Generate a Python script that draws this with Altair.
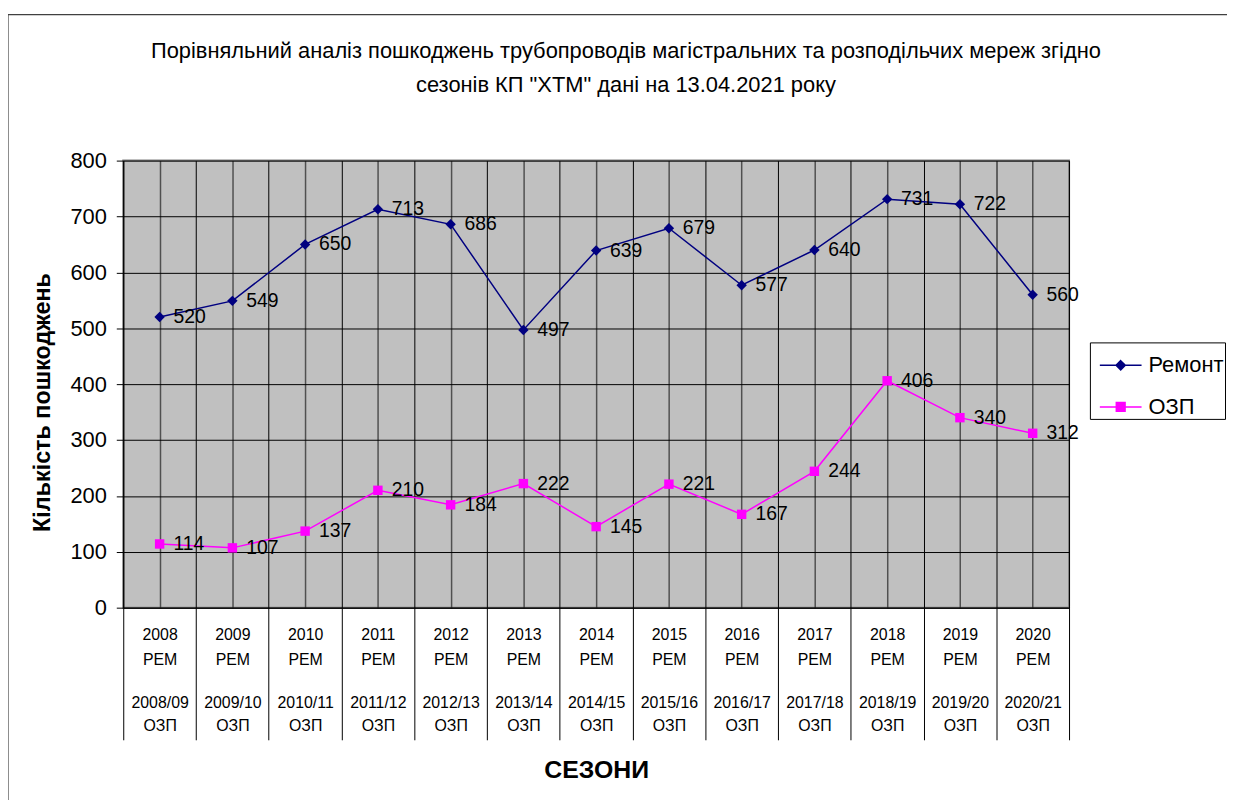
import json
import altair as alt
import pandas as pd

# ---- data ----
years = ["2008", "2009", "2010", "2011", "2012", "2013", "2014",
         "2015", "2016", "2017", "2018", "2019", "2020"]
seasons = ["2008/09", "2009/10", "2010/11", "2011/12", "2012/13", "2013/14",
           "2014/15", "2015/16", "2016/17", "2017/18", "2018/19", "2019/20", "2020/21"]
remont = [520, 549, 650, 713, 686, 497, 639, 679, 577, 640, 731, 722, 560]
ozp = [114, 107, 137, 210, 184, 222, 145, 221, 167, 244, 406, 340, 312]
series_names = ["Ремонт", "ОЗП"]
series_colors = ["#000080", "#FF00FF"]

title_lines = [
    "Порівняльний аналіз пошкоджень трубопроводів магістральних та розподільчих мереж згідно",
    "сезонів КП \"ХТМ\" дані на 13.04.2021 року",
]

FONT = "Liberation Sans"

n = len(years)
pos = [i + 0.5 for i in range(n)]
df = pd.DataFrame({
    "pos": pos * 2,
    "value": remont + ozp,
    "series": [series_names[0]] * n + [series_names[1]] * n,
})

year_lines = [[y, "РЕМ"] for y in years]
season_lines = [[s, "ОЗП"] for s in seasons]
year_expr = ("datum.value % 1 == 0 ? '' : "
             + json.dumps(year_lines, ensure_ascii=False) + "[floor(datum.value)]")
season_expr = json.dumps(season_lines, ensure_ascii=False) + "[floor(datum.value)]"

x_vals = [i / 2 for i in range(2 * n + 1)]
x_scale = alt.Scale(domain=[0, n], nice=False, zero=False)

# main axis: grid, separators, first label row and title
x_main = alt.X(
    "pos:Q", scale=x_scale,
    axis=alt.Axis(
        orient="bottom",
        values=x_vals,
        title="СЕЗОНИ",
        titleFont=FONT, titleFontSize=25, titleFontWeight="bold", titleColor="#000",
        titlePadding=17,
        grid=True,
        gridColor={"condition": {"test": "datum.value % 1 == 0", "value": "#000000"},
                   "value": "#505050"},
        gridWidth={"condition": {"test": "datum.value % 1 == 0", "value": 1},
                   "value": 1.5},
        ticks=True, tickSize=133,
        tickColor={"condition": {"test": "datum.value % 1 == 0", "value": "#000000"},
                   "value": "transparent"},
        domainColor="#000", domainWidth=1,
        labelExpr=year_expr,
        labelFont=FONT, labelFontSize=16, labelColor="#000",
        labelLineHeight=25, labelPadding=-114,
        labelOverlap=False, labelFlush=False, labelBound=False,
    ),
)
# second axis: season label rows only
x_season = alt.X(
    "pos:Q", scale=x_scale,
    axis=alt.Axis(
        orient="bottom",
        values=pos,
        title=None, grid=False, ticks=False, domain=False,
        labelExpr=season_expr,
        labelFont=FONT, labelFontSize=16, labelColor="#000",
        labelLineHeight=24, labelPadding=87,
        labelOverlap=False, labelFlush=False, labelBound=False,
    ),
)
x_none = alt.X("pos:Q", scale=x_scale, axis=None)

y_enc = alt.Y(
    "value:Q",
    scale=alt.Scale(domain=[0, 800], nice=False, zero=True),
    axis=alt.Axis(
        values=list(range(0, 801, 100)),
        title="Кількість пошкоджень",
        titleFont=FONT, titleFontSize=23.5, titleFontWeight="bold", titleColor="#000",
        titlePadding=16, titleY=243,
        grid=True, gridColor="#000", gridWidth=1,
        tickSize=7, tickColor="#000", domainColor="#000",
        labelFont=FONT, labelFontSize=22, labelColor="#000", labelPadding=10,
    ),
)

base = alt.Chart(df)

# decorative outer frame (chart-area border)
frame = alt.Chart(pd.DataFrame({"a": [0]})).mark_rect(
    fill=None, stroke="#404040", strokeWidth=1.2
).encode(
    x=alt.value(-116), x2=alt.value(1200),
    y=alt.value(-147), y2=alt.value(700),
)

layers = [frame]
shapes = ["diamond", "square"]
sizes = [110, 90]
for k, (s, c, sh, sz) in enumerate(zip(series_names, series_colors, shapes, sizes)):
    sub = base.transform_filter(alt.datum.series == s)
    xl = x_main if k == 0 else x_none
    xp = x_season if k == 0 else x_none
    layers.append(sub.mark_line(color=c, strokeWidth=1.5).encode(x=xl, y=y_enc))
    layers.append(sub.mark_point(shape=sh, filled=True, size=sz, color=c, opacity=1)
                  .encode(x=xp, y=y_enc))
    layers.append(sub.mark_text(align="left", baseline="middle", dx=14, font=FONT,
                                fontSize=19.5, color="#000")
                  .encode(x=x_none, y=y_enc, text="value:Q"))

# legend-only layer: symbols are line + marker
legend_paths = [
    "M-1,0L1,0M0,-0.22L0.22,0L0,0.22L-0.22,0Z",
    "M-1,0L1,0M-0.21,-0.21L0.21,-0.21L0.21,0.21L-0.21,0.21Z",
]
leg = alt.Legend(
    orient="none", legendX=973, legendY=183, title=None,
    padding=1, strokeColor="#000", fillColor="#fff",
    symbolSize=1764, symbolStrokeWidth=1.5, symbolOffset=8,
    labelFont=FONT, labelFontSize=22, labelColor="#000", labelOffset=6,
    rowPadding=9, labelLimit=0,
)
legend_layer = base.transform_filter("false").mark_point(
    filled=True, opacity=1, strokeWidth=1.5
).encode(
    x=x_none, y=y_enc,
    color=alt.Color("series:N", scale=alt.Scale(domain=series_names, range=series_colors), legend=leg),
    stroke=alt.Stroke("series:N", scale=alt.Scale(domain=series_names, range=series_colors), legend=leg),
    shape=alt.Shape("series:N", scale=alt.Scale(domain=series_names, range=legend_paths), legend=leg),
)
layers.append(legend_layer)

chart = alt.layer(*layers).resolve_scale(x="shared").resolve_axis(x="independent").properties(
    width=952, height=450,
    title=alt.TitleParams(
        text=title_lines, font=FONT, fontSize=22, fontWeight="normal", color="#000",
        anchor="middle", dx=30, lineHeight=35, offset=-84,
    ),
    autosize=alt.AutoSizeParams(type="none"),
    padding={"left": 116, "top": 151, "right": 159, "bottom": 191},
    background="#FFFFFF",
).configure_view(
    fill="#C0C0C0", stroke="#808080", strokeWidth=2
)

chart.save("out.html", embed_options={"renderer": "svg", "actions": False})
